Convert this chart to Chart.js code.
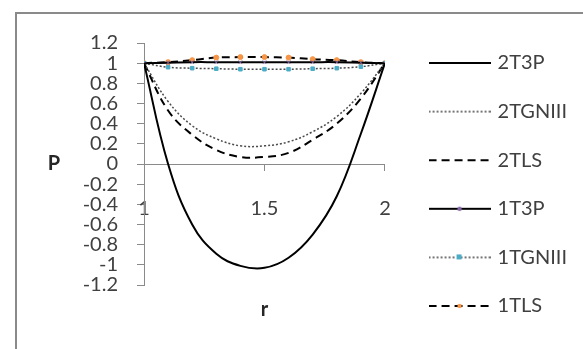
<!DOCTYPE html>
<html>
<head>
<meta charset="utf-8">
<script src="https://cdn.jsdelivr.net/npm/chart.js@4.4.1/dist/chart.umd.min.js"></script>
<style>
  html, body { margin: 0; padding: 0; background: #fff; overflow: hidden; }
  #frame { position: absolute; left: 15px; top: 12px; width: 620px; height: 400px;
           border-top: 2px solid #8a8a8a; border-left: 2px solid #8a8a8a; }
  #chart { position: absolute; left: 0; top: 0; }
</style>
</head>
<body>
<div id="frame"></div>
<canvas id="chart" width="583" height="349"></canvas>
<script>
// r values and the six P series
const r = [1, 1.1, 1.2, 1.3, 1.4, 1.5, 1.6, 1.7, 1.8, 1.9, 2];
const p2T3P    = [1, 0, -0.6, -0.89, -1.01, -1.03, -0.93, -0.7, -0.32, 0.3, 1];
const p2TGNIII = [1, 0.62, 0.38, 0.25, 0.18, 0.18, 0.22, 0.32, 0.47, 0.7, 1];
const p2TLS    = [1, 0.53, 0.29, 0.14, 0.07, 0.07, 0.11, 0.24, 0.4, 0.65, 1];
const p1T3P    = [1, 1.005, 1.01, 1.01, 1.01, 1.01, 1.01, 1.01, 1.01, 1.005, 1];
const p1TGNIII = [1, 0.96, 0.95, 0.945, 0.94, 0.94, 0.94, 0.945, 0.95, 0.965, 1];
const p1TLS    = [1, 1.01, 1.03, 1.055, 1.06, 1.06, 1.055, 1.04, 1.03, 1.01, 1];
const seriesNames = ['2T3P', '2TGNIII', '2TLS', '1T3P', '1TGNIII', '1TLS'];
const yTicks = { min: -1.2, max: 1.2, step: 0.2 };
const xTicks = { min: 1, max: 2, step: 0.5 };

const FONT = 'Lato, "Liberation Sans", sans-serif';

function pts(vals) {
  return r.map((x, i) => ({ x: x, y: vals[i] }));
}

function makeSet(label, vals, color, width, dash, marker, markerColor) {
  return {
    label: label,
    data: pts(vals),
    borderColor: color,
    borderWidth: width,
    borderDash: dash,
    pointStyle: marker || 'circle',
    pointRadius: marker ? 2.5 : 0,
    pointBackgroundColor: markerColor,
    pointBorderColor: markerColor,
    pointBorderWidth: 1,
    tension: 0.4,
    fill: false
  };
}

const datasets = [
  makeSet(seriesNames[0], p2T3P, '#000', 2, []),
  makeSet(seriesNames[1], p2TGNIII, '#4a4a4a', 1.5, [2, 2]),
  makeSet(seriesNames[2], p2TLS, '#000', 2, [8, 5]),
  makeSet(seriesNames[3], p1T3P, '#000', 2, [], 'crossRot', '#8064A2'),
  makeSet(seriesNames[4], p1TGNIII, '#4a4a4a', 1.5, [2, 2], 'rect', '#4BACC6'),
  makeSet(seriesNames[5], p1TLS, '#000', 2, [8, 5], 'circle', '#F79646')
];

// little line + marker picture for each legend entry
function legendIcon(ds) {
  const c = document.createElement('canvas');
  c.width = 62; c.height = 14;
  const g = c.getContext('2d');
  g.strokeStyle = ds.borderColor;
  g.lineWidth = ds.borderWidth;
  g.setLineDash(ds.borderDash);
  g.beginPath(); g.moveTo(0, 7); g.lineTo(62, 7); g.stroke();
  if (ds.pointRadius > 0) {
    g.setLineDash([]);
    g.fillStyle = ds.pointBackgroundColor;
    if (ds.pointStyle === 'rect') {
      g.fillRect(28, 4, 5, 5);
    } else {
      g.beginPath(); g.arc(31, 7, 2.2, 0, Math.PI * 2); g.fill();
    }
  }
  return c;
}

function tickText(v) {
  const n = Math.round(v * 10) / 10;
  return String(n === 0 ? 0 : n);
}

const yTitle = {
  id: 'yTitle',
  afterDraw(chart) {
    const ctx = chart.ctx;
    const ys = chart.scales.y;
    ctx.save();
    ctx.font = 'bold 20px ' + FONT;
    ctx.fillStyle = '#262626';
    ctx.textAlign = 'center';
    ctx.textBaseline = 'middle';
    ctx.fillText('P', ys.left + 44, ys.getPixelForValue(0));
    ctx.restore();
  }
};

const ctx = document.getElementById('chart').getContext('2d');
const myChart = new Chart(ctx, {
  type: 'line',
  data: { datasets: datasets },
  plugins: [yTitle],
  options: {
    responsive: false,
    animation: false,
    layout: { padding: { left: 10, top: 20, right: 6, bottom: 0 } },
    plugins: {
      tooltip: { enabled: false },
      legend: {
        position: 'right',
        maxWidth: 220,
        labels: {
          usePointStyle: true,
          pointStyleWidth: 56,
          padding: 28.6,
          color: '#404040',
          font: { family: FONT, size: 20 },
          generateLabels: function (chart) {
            return chart.data.datasets.map((ds, i) => ({
              text: ds.label,
              pointStyle: legendIcon(ds),
              datasetIndex: i,
              hidden: false,
              lineWidth: 0,
              fontColor: '#404040'
            }));
          }
        }
      }
    },
    scales: {
      x: {
        type: 'linear',
        position: { y: 0 },
        min: xTicks.min,
        max: xTicks.max,
        border: { display: true, color: '#8a8a8a', width: 1 },
        grid: { drawOnChartArea: false, drawTicks: true, tickLength: 6, color: '#8a8a8a' },
        ticks: { stepSize: xTicks.step, autoSkip: false, padding: 27, color: '#404040',
                 font: { family: FONT, size: 20 }, callback: tickText }
      },
      xTop: {
        type: 'linear', position: 'top', display: true,
        grid: { display: false }, border: { display: false }, ticks: { display: false },
        afterFit: (s) => { s.height = 23; }
      },
      xBottom: {
        type: 'linear', position: 'bottom', display: true,
        grid: { display: false }, border: { display: false }, ticks: { display: false },
        title: { display: true, text: 'r', color: '#262626', padding: { top: 0, bottom: 27 },
                 font: { family: FONT, size: 20, weight: 'bold' } },
        afterFit: (s) => { s.height = 64; }
      },
      y: {
        type: 'linear',
        position: 'left',
        min: yTicks.min,
        max: yTicks.max,
        border: { display: true, color: '#8a8a8a', width: 1 },
        grid: { drawOnChartArea: false, drawTicks: true, tickLength: 7, color: '#8a8a8a' },
        ticks: { stepSize: yTicks.step, autoSkip: false, padding: 19, color: '#404040',
                 font: { family: FONT, size: 20 }, callback: tickText },
        afterFit: (s) => { s.width = 134; }
      },
      yRight: {
        type: 'linear', position: 'right', display: true,
        grid: { display: false }, border: { display: false }, ticks: { display: false },
        afterFit: (s) => { s.width = 18; }
      }
    }
  }
});
</script>
</body>
</html>
